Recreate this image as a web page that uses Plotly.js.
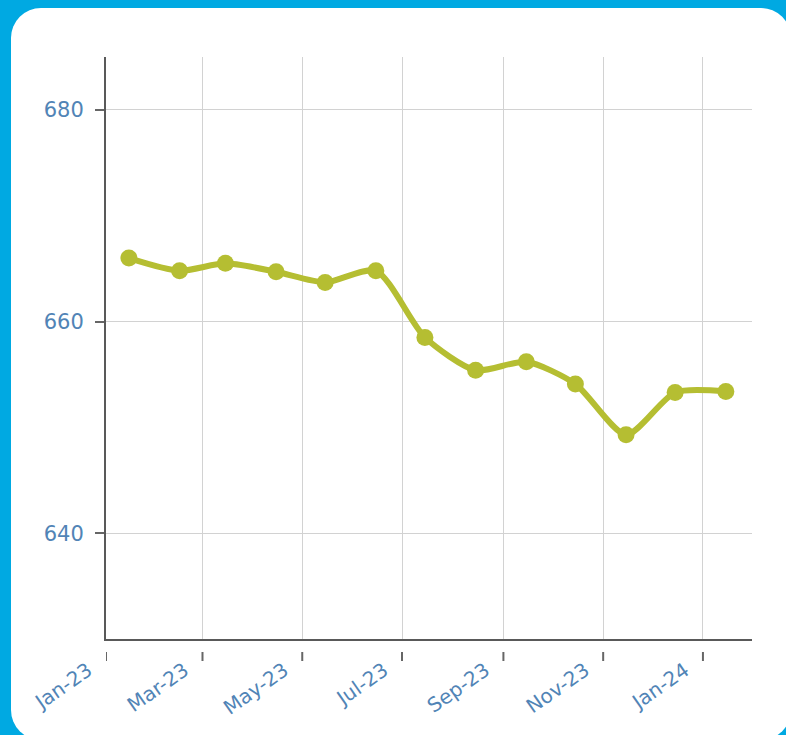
<!DOCTYPE html>
<html>
<head>
<meta charset="utf-8">
<script src="https://cdn.plot.ly/plotly-3.0.1.min.js"></script>
<style>
  html, body { margin: 0; padding: 0; width: 786px; height: 735px; overflow: hidden; background: #00a9e2; }
  #card { position: absolute; left: 11px; top: 8px; width: 780px; height: 732px; background: #ffffff; border-radius: 30px; }
  #chart { position: absolute; left: 0; top: 0; width: 786px; height: 735px; }
</style>
</head>
<body>
<div id="card"></div>
<div id="chart"></div>
<script>
const dates = ['2023-01-15','2023-02-15','2023-03-15','2023-04-15','2023-05-15','2023-06-15',
               '2023-07-15','2023-08-15','2023-09-15','2023-10-15','2023-11-15','2023-12-15','2024-01-15'];
const values = [666.0, 664.8, 665.5, 664.7, 663.7, 664.8, 658.5, 655.4, 656.2, 654.1, 649.3, 653.3, 653.4];

const xTickVals = ['2023-01-01','2023-03-01','2023-05-01','2023-07-01','2023-09-01','2023-11-01','2024-01-01'];
const xTickText = ['Jan-23','Mar-23','May-23','Jul-23','Sep-23','Nov-23','Jan-24'];
const yTickVals = [640, 660, 680];
const yTickText = ['640', '660', '680'];

const labelColor = '#5184b6';
const lineColor = '#b5be32';

const trace = {
  x: dates,
  y: values,
  type: 'scatter',
  mode: 'lines+markers',
  line: { color: lineColor, width: 6, shape: 'spline', smoothing: 0.7 },
  marker: { color: lineColor, size: 17 },
  hoverinfo: 'x+y'
};

// Detached tick marks under the x axis, one per tick value
const tickShapes = xTickVals.map(v => ({
  type: 'line', xref: 'x', yref: 'paper', ysizemode: 'pixel', yanchor: 0,
  x0: v, x1: v, y0: -13, y1: -22,
  line: { color: '#666666', width: 2 }
}));

const layout = {
  width: 786, height: 735,
  margin: { l: 106, r: 34, t: 57, b: 96 },
  paper_bgcolor: 'rgba(0,0,0,0)',
  plot_bgcolor: 'rgba(0,0,0,0)',
  showlegend: false,
  font: { family: 'DejaVu Sans, Verdana, sans-serif', color: labelColor, size: 20 },
  xaxis: {
    type: 'date',
    range: ['2023-01-01', '2024-01-31'],
    tickvals: xTickVals,
    ticktext: xTickText,
    tickangle: -35,
    ticks: '',
    ticklabelstandoff: 10,
    ticklabelshift: -18,
    showgrid: true, gridcolor: '#d2d2d2', gridwidth: 1,
    showline: true, linecolor: '#595959', linewidth: 2,
    zeroline: false,
    tickfont: { size: 20, color: labelColor }
  },
  yaxis: {
    range: [630, 685],
    tickvals: yTickVals,
    ticktext: yTickText,
    ticks: 'outside', ticklen: 9, tickwidth: 2, tickcolor: '#666666',
    ticklabelstandoff: 7,
    showgrid: true, gridcolor: '#d2d2d2', gridwidth: 1,
    showline: true, linecolor: '#595959', linewidth: 2,
    zeroline: false,
    tickfont: { size: 21, color: labelColor }
  },
  shapes: tickShapes
};

Plotly.newPlot('chart', [trace], layout, { displayModeBar: false, staticPlot: true });
</script>
</body>
</html>
